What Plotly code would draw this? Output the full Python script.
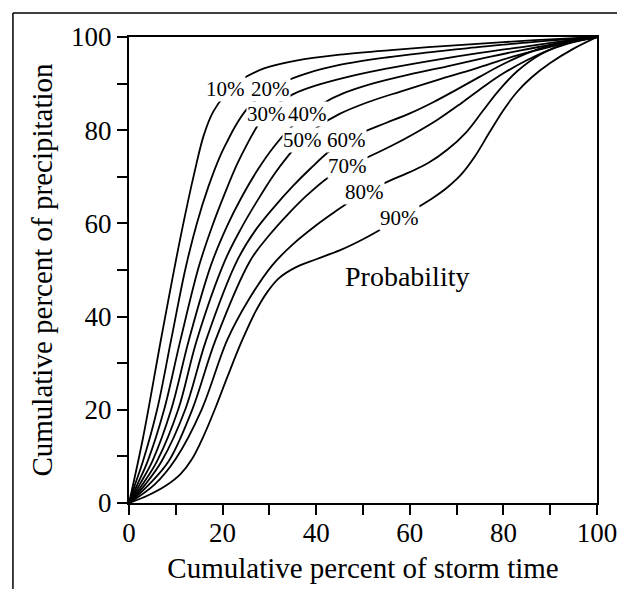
import plotly.graph_objects as go

# ---- data ----
probabilities = ["10%", "20%", "30%", "40%", "50%", "60%", "70%", "80%", "90%"]

x10 = [0, 3, 7, 11, 14, 16, 18, 20.5, 24, 29, 36, 45, 56, 68, 80, 90, 100]
y10 = [0, 14, 36, 57, 71, 79, 84, 87.5, 90.8, 93.3, 95, 96.2, 97.2, 98.1, 98.9, 99.5, 100]

x20 = [0, 1.3, 3, 6, 9, 12, 14.5, 17, 19.5, 21.2, 22.8, 25, 27.5, 30.3, 33, 38, 45, 55, 65, 75, 85, 92, 100]
y20 = [0, 4, 9, 20, 35, 50, 60, 68, 74.5, 78, 81, 84.3, 86.8, 88.8, 90.3, 92.2, 94, 95.6, 96.8, 97.9, 98.8, 99.4, 100]

x30 = [0, 1.8, 4, 7.5, 11, 15, 18, 20.5, 23, 25.5, 27.5, 29.3, 31.5, 35, 40, 47, 55, 65, 75, 85, 92, 100]
y30 = [0, 4, 9, 20, 35, 51, 60, 66.5, 72.5, 77.5, 81, 83.5, 85.5, 87.7, 89.6, 91.5, 93.2, 95, 96.6, 98, 99, 100]

x40 = [0, 2.3, 5, 9, 12.8, 17.5, 21, 24, 27.5, 31, 34.5, 38.2, 41.5, 46, 52, 60, 68, 76, 84, 91, 100]
y40 = [0, 4, 9, 20, 35, 51, 59.5, 65.5, 71.5, 76.5, 80.5, 83.5, 85.8, 88, 90, 92, 93.7, 95.5, 97.2, 98.5, 100]

x50 = [0, 2.9, 6, 10.5, 14.5, 20.5, 24, 27.5, 31, 34, 37, 40.5, 45, 51, 58, 66, 74, 82, 90, 100]
y50 = [0, 4, 9, 20, 35, 52, 59, 65, 70.5, 74.5, 77.9, 80.8, 83.5, 86, 88.3, 90.8, 93.2, 95.8, 97.9, 100]

x60 = [0, 3.5, 7, 12, 16.5, 23.1, 27, 31, 35, 39, 42.5, 46.4, 50.5, 55, 60, 65, 70, 75, 80, 85, 90, 95, 100]
y60 = [0, 4, 9, 20, 35, 52, 58.5, 63.5, 68, 72, 75.2, 77.9, 79.8, 81.6, 83.6, 86, 88.7, 91.5, 94.2, 96.5, 98.2, 99.3, 100]

x70 = [0, 4.3, 8.5, 13.5, 18.5, 25.9, 30, 34, 38, 42.5, 46.6, 51, 56, 61, 66, 71, 76, 80, 85, 90, 95, 100]
y70 = [0, 4, 9, 20, 35, 52, 57.5, 62, 66, 69.8, 72.3, 74.2, 76.6, 79.3, 82.3, 85.8, 89.5, 92.2, 95, 97.3, 98.9, 100]

x80 = [0, 5.5, 10, 15.5, 21, 25.5, 30.6, 35, 40, 44, 48, 52, 56, 60, 64, 68, 72, 75.5, 79, 83, 88, 94, 100]
y80 = [0, 4, 9.5, 20, 35, 43.5, 51, 55.5, 59.6, 62.5, 65.2, 67.4, 69.3, 71, 73, 75.8, 79.5, 84, 88.5, 92.7, 96.3, 98.8, 100]

x90 = [0, 4, 8, 11, 13.5, 16, 18.5, 21, 24, 27, 29.5, 32, 35.5, 40, 45, 50, 55, 60, 65, 68, 71, 74, 77, 80, 83, 86, 90, 95, 100]
y90 = [0, 1.6, 3.8, 6.2, 9.5, 14.5, 20.5, 27, 34.5, 41, 45.2, 48.2, 50.5, 52.3, 54.2, 56.6, 59.4, 62.4, 65.5, 67.7, 70.5, 74.5, 79.5, 84.3, 88.3, 91.3, 94.4, 97.5, 100]

curves_x = [x10, x20, x30, x40, x50, x60, x70, x80, x90]
curves_y = [y10, y20, y30, y40, y50, y60, y70, y80, y90]

# label anchor points on each curve
label_x = [20.7, 30.3, 29.3, 38.2, 37.0, 46.4, 46.6, 50.4, 57.7]
label_y = [88.8, 88.8, 83.5, 83.5, 77.9, 77.9, 72.3, 66.7, 61.2]

tick_vals = [0, 20, 40, 60, 80, 100]

FONT = "Liberation Serif"

fig = go.Figure()
for cx, cy, name in zip(curves_x, curves_y, probabilities):
    fig.add_trace(go.Scatter(
        x=cx, y=cy, mode="lines", name=name,
        line=dict(color="black", width=1.8, shape="spline", smoothing=1.0),
        showlegend=False, hoverinfo="skip", cliponaxis=True))

for lx, ly, name in zip(label_x, label_y, probabilities):
    fig.add_annotation(x=lx, y=ly, text=name, showarrow=False,
                       font=dict(family=FONT, size=21, color="black"),
                       bgcolor="white", borderpad=0)

fig.add_annotation(x=59.4, y=48.7, text="Probability", showarrow=False,
                   font=dict(family=FONT, size=28, color="black"))

axis_common = dict(
    range=[0, 100], tickvals=tick_vals, ticks="outside", ticklen=10, tickwidth=1.5,
    tickcolor="black", showline=True, linecolor="black", linewidth=2, mirror=True,
    showgrid=False, zeroline=False, automargin=False, ticklabeloverflow="allow",
    tickfont=dict(family=FONT, size=27, color="black"),
    minor=dict(dtick=10, ticks="outside", ticklen=10, tickwidth=1.5, tickcolor="black", showgrid=False),
)

fig.update_xaxes(**axis_common, ticklabelstandoff=-5,
                 title=dict(text="Cumulative percent of storm time",
                            font=dict(family=FONT, size=29, color="black"), standoff=10))
fig.update_yaxes(**axis_common,
                 title=dict(text="Cumulative percent of precipitation",
                            font=dict(family=FONT, size=29, color="black"), standoff=10))

# outer scan frame (top and left)
fig.add_shape(type="line", xref="paper", yref="paper", x0=-0.248, x1=1.1, y0=1.0515, y1=1.0515,
              line=dict(color="black", width=1.5))
fig.add_shape(type="line", xref="paper", yref="paper", x0=-0.248, x1=-0.248, y0=1.0515, y1=-0.2,
              line=dict(color="black", width=1.5))

fig.update_layout(
    width=617, height=589,
    margin=dict(l=129, r=20, t=37, b=86, autoexpand=False),
    paper_bgcolor="white", plot_bgcolor="white",
)

fig.write_html("out.html")
